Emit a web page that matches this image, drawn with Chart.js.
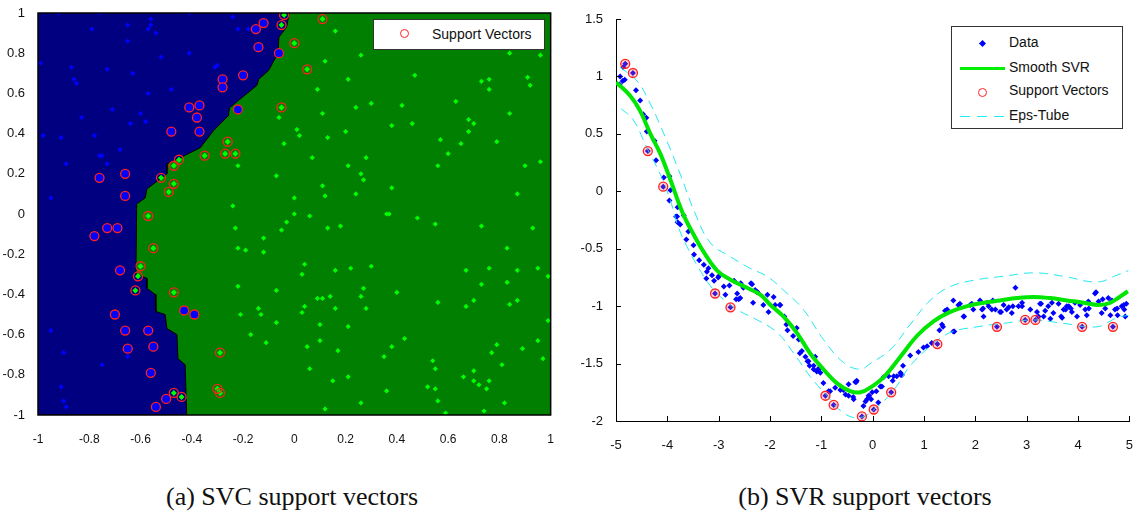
<!DOCTYPE html>
<html>
<head>
<meta charset="utf-8">
<script src="https://cdn.jsdelivr.net/npm/chart.js@4.4.1/dist/chart.umd.min.js"></script>
<style>
  body { margin: 0; background: #fff; font-family: "Liberation Sans", Arial, sans-serif; }
  #page { position: relative; width: 1133px; height: 519px; overflow: hidden; }
  .holder { position: absolute; top: 0; }
  .legend { position: absolute; background: #fff; border: 1px solid #333; box-sizing: border-box; font-size: 14px; color: #111; }
  .legend .txt { position: absolute; white-space: nowrap; }
  .mk { position: absolute; }
  .caption { position: absolute; top: 482px; font-family: "Liberation Serif", "Times New Roman", serif; font-size: 26px; color: #111; transform: translateX(-50%); white-space: nowrap; }
</style>
</head>
<body>
<div id="page">
  <div class="holder" style="left:0;"><canvas id="svc" width="563" height="450"></canvas></div>
  <div class="holder" style="left:570px;"><canvas id="svr" width="572" height="450"></canvas></div>

  <div class="legend" style="left:373px;top:19px;width:172px;height:31px;">
    <div class="mk" style="left:26px;top:9px;width:9px;height:9px;border:1.5px solid #f22;border-radius:50%;box-sizing:border-box;"></div>
    <div class="txt" style="left:58px;top:6px;">Support Vectors</div>
  </div>

  <div class="legend" style="left:951px;top:26px;width:172px;height:103px;">
    <div class="mk" style="left:28px;top:14px;width:5px;height:5px;background:#00f;transform:rotate(45deg);"></div>
    <div class="txt" style="left:57px;top:7px;">Data</div>
    <div class="mk" style="left:8px;top:40px;width:45px;height:3px;background:#0e0;"></div>
    <div class="txt" style="left:57px;top:32px;">Smooth SVR</div>
    <div class="mk" style="left:26px;top:61px;width:9px;height:9px;border:1.5px solid #f22;border-radius:50%;box-sizing:border-box;"></div>
    <div class="txt" style="left:57px;top:55px;">Support Vectors</div>
    <div class="mk" style="left:8px;top:89px;width:46px;height:1px;background:repeating-linear-gradient(90deg,#2ee 0 10px,transparent 10px 17px);"></div>
    <div class="txt" style="left:57px;top:80px;">Eps-Tube</div>
  </div>

  <div class="caption" style="left:292px;">(a) SVC support vectors</div>
  <div class="caption" style="left:865px;">(b) SVR support vectors</div>
</div>

<script>
// ---- SVC (left) ----
const svcXTicks = [-1, -0.8, -0.6, -0.4, -0.2, 0, 0.2, 0.4, 0.6, 0.8, 1];
const svcYTicks = [-1, -0.8, -0.6, -0.4, -0.2, 0, 0.2, 0.4, 0.6, 0.8, 1];

// blue class region (decision boundary, then the left side of the box)
const svcBlueRegion = [
  [-0.02, 1], [-0.03, 0.93], [-0.06, 0.88], [-0.064, 0.80], [-0.10, 0.715], [-0.139, 0.67],
  [-0.146, 0.64], [-0.218, 0.565], [-0.253, 0.528], [-0.257, 0.49], [-0.315, 0.415],
  [-0.367, 0.33], [-0.445, 0.28], [-0.497, 0.25], [-0.497, 0.20], [-0.575, 0.125],
  [-0.582, 0.08], [-0.615, 0.05], [-0.618, -0.30], [-0.575, -0.32], [-0.575, -0.37],
  [-0.543, -0.40], [-0.54, -0.485], [-0.504, -0.50], [-0.497, -0.57], [-0.458, -0.60],
  [-0.454, -0.72], [-0.426, -0.75], [-0.42, -1], [-1, -1], [-1, 1]
];

const svcBlue = [
  [-0.92, 1.0], [-0.76, 1.0], [-0.41, 1.0], [-0.24, 0.98], [-0.22, 0.92], [-0.18, 0.92],
  [-0.56, 0.97], [-0.65, 0.94], [-0.79, 0.92], [-0.57, 0.92], [-0.56, 0.94], [-0.54, 0.90],
  [-0.65, 0.86], [-0.41, 0.80], [-0.52, 0.78], [-0.99, 0.75], [-0.87, 0.73], [-0.73, 0.72],
  [-0.31, 0.73], [-0.30, 0.74], [-0.86, 0.67], [-0.85, 0.65], [-0.63, 0.70], [-0.48, 0.62],
  [-0.57, 0.60], [-0.71, 0.52], [-0.60, 0.50], [-0.83, 0.48], [-0.58, 0.46], [-0.64, 0.45],
  [-0.98, 0.39], [-0.91, 0.38], [-0.78, 0.39], [-0.68, 0.32], [-0.75, 0.29], [-0.76, 0.29],
  [-0.89, 0.25], [-0.73, 0.25], [-0.95, 0.08],
  [-0.95, -0.58], [-0.90, -0.69], [-0.65, -0.71], [-0.75, -0.75], [-0.91, -0.86],
  [-0.90, -0.93], [-0.89, -0.96]
];

const svcSvBlue = [
  [-0.15, 0.92], [-0.12, 0.95], [-0.14, 0.83], [-0.06, 0.80], [-0.28, 0.67], [-0.28, 0.63],
  [-0.20, 0.69], [-0.41, 0.53], [-0.37, 0.54], [-0.38, 0.48], [-0.37, 0.41], [-0.48, 0.41],
  [-0.22, 0.52], [-0.76, 0.18], [-0.66, 0.20], [-0.66, 0.09],
  [-0.78, -0.11], [-0.73, -0.07], [-0.69, -0.07], [-0.68, -0.28], [-0.70, -0.50],
  [-0.66, -0.58], [-0.57, -0.58], [-0.65, -0.67], [-0.55, -0.66], [-0.56, -0.79],
  [-0.43, -0.48], [-0.39, -0.50], [-0.50, -0.92], [-0.54, -0.96]
];

const svcSvGreen = [
  [-0.04, 0.99], [-0.05, 0.94], [0.00, 0.85], [-0.05, 0.53], [-0.26, 0.36], [-0.27, 0.30],
  [-0.23, 0.30], [-0.35, 0.29], [-0.45, 0.27], [-0.47, 0.24], [-0.52, 0.18], [-0.47, 0.15],
  [-0.49, 0.11], [-0.57, -0.01], [0.11, 0.97], [0.05, 0.72],
  [-0.55, -0.17], [-0.60, -0.26], [-0.61, -0.31], [-0.62, -0.38], [-0.47, -0.39],
  [-0.29, -0.69], [-0.30, -0.87], [-0.29, -0.89], [-0.47, -0.89], [-0.44, -0.91]
];

const svcGreen = [
  [-0.06, 0.48], [0.01, 0.42], [0.02, 0.39], [-0.04, 0.35], [-0.22, 0.24], [-0.07, 0.19],
  [0.00, 0.08], [-0.24, 0.04], [0.00, 0.00],
  [0.16, 0.91], [0.26, 0.79], [0.12, 0.76], [0.21, 0.67], [0.09, 0.62], [0.47, 0.69],
  [0.73, 0.66], [0.76, 0.67], [0.76, 0.62], [0.91, 0.68], [0.92, 0.64], [0.84, 0.80],
  [0.96, 0.79], [0.24, 0.53], [0.30, 0.55], [0.42, 0.54], [0.63, 0.56], [0.84, 0.50],
  [0.11, 0.50], [0.13, 0.38], [0.20, 0.41], [0.38, 0.44], [0.46, 0.45], [0.68, 0.47],
  [0.70, 0.45], [0.68, 0.41], [0.57, 0.37], [0.65, 0.35], [0.79, 0.36], [0.60, 0.30],
  [0.07, 0.28], [0.28, 0.28], [0.21, 0.24], [0.26, 0.20], [0.27, 0.17], [0.56, 0.24],
  [0.90, 0.24], [0.96, 0.26], [0.11, 0.14], [0.12, 0.09], [0.24, 0.10], [0.38, 0.13],
  [0.87, 0.10], [0.06, -0.01], [0.36, 0.00], [0.37, 0.00], [0.48, -0.02],
  [-0.03, -0.04], [-0.05, -0.08], [0.13, -0.07], [0.18, -0.06], [0.55, -0.05], [0.73, -0.06],
  [0.93, -0.07], [0.83, -0.17], [0.04, -0.25], [0.03, -0.30], [0.16, -0.28], [0.22, -0.27],
  [0.30, -0.26], [0.67, -0.28], [0.76, -0.27], [0.87, -0.28], [0.95, -0.27], [0.99, -0.31],
  [0.83, -0.34], [0.73, -0.35], [-0.07, -0.38], [0.27, -0.37], [0.40, -0.39], [0.09, -0.42],
  [0.11, -0.42], [0.14, -0.41], [0.26, -0.41], [0.04, -0.46], [0.03, -0.49], [0.16, -0.47],
  [0.28, -0.47], [0.56, -0.44], [0.67, -0.46], [0.70, -0.43], [0.84, -0.45], [0.87, -0.43],
  [-0.07, -0.54], [0.10, -0.55], [0.21, -0.56], [0.99, -0.53], [0.43, -0.62], [0.38, -0.66],
  [0.05, -0.66], [0.10, -0.63], [0.17, -0.68], [0.35, -0.71], [0.79, -0.65], [0.77, -0.69],
  [0.89, -0.67], [0.95, -0.63], [0.97, -0.72], [0.54, -0.73], [0.55, -0.77], [0.81, -0.75],
  [0.06, -0.77], [0.21, -0.81], [0.15, -0.83], [0.66, -0.81], [0.70, -0.78], [0.70, -0.83],
  [0.72, -0.85], [0.76, -0.83], [0.75, -0.87], [0.52, -0.86], [0.55, -0.87], [0.36, -0.88],
  [0.56, -0.93], [0.26, -0.94], [0.12, -0.97], [0.59, -0.99], [0.74, -0.98], [0.82, -0.94],
  [-0.23, -0.07], [-0.12, -0.12], [-0.22, -0.17], [-0.19, -0.18], [-0.12, -0.19],
  [-0.22, -0.36], [-0.14, -0.47], [-0.21, -0.50], [-0.13, -0.50], [-0.17, -0.60], [-0.11, -0.64]
];

// ---- SVR (right) ----
const svrXTicks = [-5, -4, -3, -2, -1, 0, 1, 2, 3, 4, 5];
const svrYTicks = [-2, -1.5, -1, -0.5, 0, 0.5, 1, 1.5];

const svrData = [
  [-4.92, 1.00], [-4.93, 0.93], [-4.87, 0.96], [-4.83, 0.97], [-4.86, 1.08], [-4.82, 1.11],
  [-4.67, 1.03], [-4.61, 0.88], [-4.53, 0.79], [-4.47, 0.67], [-4.41, 0.64], [-4.40, 0.52],
  [-4.38, 0.35], [-4.25, 0.44], [-4.22, 0.27], [-4.07, 0.12], [-4.08, 0.04], [-3.96, 0.13],
  [-3.94, 0.01], [-3.96, -0.08], [-3.80, -0.14], [-3.81, -0.22], [-3.68, -0.21],
  [-3.83, -0.22], [-3.80, -0.27], [-3.75, -0.29], [-3.59, -0.35], [-3.63, -0.42],
  [-3.49, -0.47], [-3.48, -0.55], [-3.38, -0.60], [-3.29, -0.64], [-3.20, -0.67],
  [-3.23, -0.70], [-3.13, -0.73], [-3.24, -0.76], [-3.09, -0.78], [-3.00, -0.74],
  [-3.07, -0.89], [-2.90, -0.83], [-2.87, -0.90], [-2.79, -0.82], [-2.77, -1.01],
  [-2.70, -0.78], [-2.64, -0.89], [-2.66, -0.94], [-2.58, -0.93], [-2.57, -0.80],
  [-2.52, -0.84], [-2.35, -0.81], [-2.33, -0.97], [-2.29, -0.86], [-2.24, -0.88],
  [-2.13, -0.99], [-2.05, -0.90], [-2.03, -1.05], [-1.93, -0.92], [-1.90, -0.99],
  [-1.80, -0.99], [-1.72, -1.09], [-1.68, -1.16], [-1.66, -1.21], [-1.55, -1.26],
  [-1.48, -1.19], [-1.44, -1.29], [-1.42, -1.41], [-1.38, -1.39], [-1.31, -1.44],
  [-1.27, -1.48], [-1.23, -1.52], [-1.15, -1.52], [-1.12, -1.44], [-1.09, -1.57],
  [-1.05, -1.55], [-1.02, -1.58], [-0.96, -1.67], [-0.92, -1.78], [-0.86, -1.74],
  [-0.76, -1.86], [-0.73, -1.71], [-0.57, -1.73], [-0.47, -1.68], [-0.47, -1.78],
  [-0.38, -1.79], [-0.32, -1.66], [-0.34, -1.66], [-0.21, -1.96], [-0.18, -1.87],
  [-0.14, -1.83], [-0.07, -1.78], [-0.03, -1.81], [0.02, -1.90], [0.11, -1.84],
  [0.07, -1.74], [0.18, -1.70], [0.21, -1.62], [0.36, -1.75], [0.41, -1.61], [0.39, -1.65],
  [0.55, -1.60], [0.59, -1.52], [0.57, -1.60], [0.73, -1.43], [0.89, -1.40], [0.99, -1.36],
  [1.06, -1.35], [1.15, -1.32], [1.26, -1.33], [1.30, -1.21], [1.35, -1.16], [1.45, -1.03],
  [1.57, -0.95], [1.59, -1.22], [1.67, -0.99], [1.78, -1.09], [1.90, -0.99], [1.96, -1.03],
  [2.09, -0.95], [2.16, -1.09], [2.15, -1.02], [2.26, -1.00], [2.34, -0.95], [2.39, -1.03],
  [2.42, -1.18], [2.50, -1.05], [2.55, -0.99], [2.65, -1.01], [2.73, -1.00], [2.78, -0.84],
  [2.84, -1.00], [2.91, -1.00], [2.97, -1.12], [3.07, -1.03], [3.17, -1.12], [3.23, -1.09],
  [3.28, -0.98], [3.36, -1.04], [3.42, -1.00], [3.46, -1.11], [3.52, -1.06], [3.67, -1.09],
  [3.72, -1.03], [3.78, -1.00], [3.86, -1.02], [3.98, -1.09], [4.04, -0.99], [4.08, -1.18],
  [4.17, -1.08], [4.20, -0.96], [4.21, -1.02], [4.35, -0.88], [4.40, -0.96], [4.48, -0.94],
  [4.53, -1.02], [4.59, -0.93], [4.63, -1.08], [4.68, -1.18], [4.72, -1.03], [4.77, -1.08],
  [4.85, -1.00], [4.90, -1.03], [4.94, -0.98],
  [1.41, -1.04], [1.70, -0.98], [1.93, -0.98], [2.13, -1.03], [2.23, -0.97], [2.32, -1.03],
  [2.48, -1.05], [2.61, -1.03], [2.71, -1.06], [2.91, -0.97], [3.20, -1.05], [3.26, -0.98],
  [3.33, -1.09], [3.49, -0.97], [3.62, -0.98], [3.69, -1.10], [3.76, -1.03], [3.82, -1.00],
  [3.88, -1.05], [3.94, -0.97], [4.14, -1.03], [4.33, -0.89], [4.46, -1.06], [4.66, -0.95],
  [4.76, -1.02], [4.89, -0.99], [4.92, -1.09], [1.37, -1.18], [1.57, -1.22], [1.77, -1.09],
  [-3.01, -0.75], [-2.37, -0.80], [-2.61, -0.94], [-2.25, -0.88], [-1.81, -0.99],
  [-1.25, -1.48], [-1.15, -1.55], [-1.05, -1.54], [-0.83, -1.74], [-0.63, -1.73],
  [-0.53, -1.77], [-0.37, -1.81], [-0.31, -1.65], [-0.11, -1.81], [-0.08, -1.78],
  [-0.01, -1.75], [0.15, -1.70], [0.31, -1.61], [0.47, -1.61], [0.54, -1.58]
];

const svrSupport = [
  [-4.82, 1.11], [-4.67, 1.03], [-4.38, 0.35], [-4.08, 0.04], [-3.07, -0.89], [-2.77, -1.01],
  [-0.92, -1.78], [-0.76, -1.86], [-0.21, -1.96], [0.02, -1.90], [0.36, -1.75], [1.26, -1.33],
  [2.42, -1.18], [2.97, -1.12], [3.17, -1.12], [4.08, -1.18], [4.68, -1.18]
];

const svrCurve = [
  [-5, 0.95], [-4.72, 0.83], [-4.53, 0.70], [-4.33, 0.50], [-4.14, 0.33], [-3.94, 0.10],
  [-3.70, -0.19], [-3.46, -0.40], [-3.29, -0.53], [-3.03, -0.69], [-2.77, -0.77],
  [-2.45, -0.84], [-2.19, -0.90], [-1.99, -0.99], [-1.74, -1.09], [-1.48, -1.23],
  [-1.22, -1.41], [-0.96, -1.55], [-0.70, -1.67], [-0.44, -1.74], [-0.24, -1.75],
  [-0.05, -1.71], [0.21, -1.62], [0.54, -1.44], [0.86, -1.26], [1.19, -1.13], [1.51, -1.05],
  [1.84, -1.00], [2.16, -0.97], [2.48, -0.95], [2.81, -0.93], [3.13, -0.92], [3.46, -0.93],
  [3.78, -0.95], [4.11, -0.97], [4.40, -0.99], [4.63, -0.97], [4.97, -0.87]
];

const tubeUpper = [
  [-4.92, 1.08], [-4.59, 0.96], [-4.33, 0.76], [-4.01, 0.44], [-3.75, 0.15], [-3.46, -0.19],
  [-3.16, -0.45], [-2.77, -0.57], [-2.39, -0.67], [-2.06, -0.74], [-1.74, -0.86],
  [-1.35, -1.03], [-0.96, -1.29], [-0.57, -1.49], [-0.24, -1.55], [-0.05, -1.50],
  [0.34, -1.38], [0.73, -1.16], [1.12, -0.95], [1.51, -0.83], [2.03, -0.77], [2.55, -0.74],
  [3.13, -0.71], [3.72, -0.74], [4.37, -0.79], [4.76, -0.73], [4.98, -0.69]
];

const tubeLower = [
  [-4.90, 0.72], [-4.66, 0.62], [-4.40, 0.38], [-4.14, 0.15], [-3.94, -0.08], [-3.81, -0.28],
  [-3.62, -0.48], [-3.29, -0.74], [-3.03, -0.89], [-2.64, -1.03], [-2.25, -1.12],
  [-1.86, -1.23], [-1.54, -1.41], [-1.22, -1.61], [-0.89, -1.78], [-0.57, -1.93],
  [-0.24, -1.97], [0.08, -1.88], [0.41, -1.73], [0.73, -1.52], [1.12, -1.35], [1.51, -1.23],
  [2.03, -1.18], [2.55, -1.15], [3.13, -1.12], [3.72, -1.15], [4.37, -1.18], [4.76, -1.10],
  [4.98, -1.08]
];

const toXY = arr => arr.map(p => ({ x: p[0], y: p[1] }));
const tickFont = { family: "Liberation Sans", size: 12 };

// left chart: green background + black frame
const svcFrame = {
  id: 'svcFrame',
  beforeDatasetsDraw(chart) {
    const { ctx, chartArea: a } = chart;
    ctx.save();
    ctx.fillStyle = '#007f00';
    ctx.fillRect(a.left, a.top, a.right - a.left, a.bottom - a.top);
    ctx.restore();
  },
  afterDatasetsDraw(chart) {
    const { ctx, chartArea: a } = chart;
    ctx.save();
    ctx.strokeStyle = '#000';
    ctx.lineWidth = 1.5;
    ctx.strokeRect(a.left, a.top, a.right - a.left, a.bottom - a.top);
    ctx.restore();
  }
};

new Chart(document.getElementById('svc'), {
  type: 'scatter',
  data: {
    datasets: [
      { data: toXY(svcSvBlue), pointStyle: 'circle', pointRadius: 4.5, backgroundColor: '#0000ff', borderColor: '#ff2020', borderWidth: 1.3, order: 0 },
      { data: toXY(svcSvGreen), pointStyle: 'circle', pointRadius: 4.5, backgroundColor: 'rgba(0,0,0,0)', borderColor: '#ff2020', borderWidth: 1.3, order: 0 },
      { data: toXY(svcSvGreen), pointStyle: 'rectRot', pointRadius: 3, backgroundColor: '#00ff00', borderWidth: 0, order: 1 },
      { data: toXY(svcBlue), pointStyle: 'rectRot', pointRadius: 2.6, backgroundColor: '#0000ff', borderWidth: 0, order: 1 },
      { data: toXY(svcGreen), pointStyle: 'rectRot', pointRadius: 2.6, backgroundColor: '#00ff00', borderWidth: 0, order: 1 },
      { type: 'line', data: toXY(svcBlueRegion), fill: 'shape', backgroundColor: '#000080', borderColor: '#000', borderWidth: 1, pointRadius: 0, tension: 0, order: 5 }
    ]
  },
  options: {
    responsive: false,
    animation: false,
    layout: { padding: { top: 13, right: 10, left: 0, bottom: 0 } },
    plugins: { legend: { display: false }, tooltip: { enabled: false } },
    scales: {
      x: {
        type: 'linear', min: -1, max: 1,
        afterBuildTicks: s => { s.ticks = svcXTicks.map(v => ({ value: v })); },
        afterFit: s => { s.height = 35; },
        grid: { display: false }, border: { display: false },
        ticks: { font: tickFont, color: '#111', padding: 9, maxRotation: 0, callback: v => String(v) }
      },
      y: {
        type: 'linear', min: -1, max: 1,
        afterBuildTicks: s => { s.ticks = svcYTicks.map(v => ({ value: v })); },
        afterFit: s => { s.width = 38; },
        grid: { display: false }, border: { display: false },
        ticks: { font: { family: "Liberation Sans", size: 13 }, color: '#111', padding: 5, callback: v => String(v) }
      }
    }
  },
  plugins: [svcFrame]
});

// right chart: ticks drawn into the plot
const inwardTicks = {
  id: 'inwardTicks',
  afterDraw(chart) {
    const { ctx, chartArea: a, scales: { x, y } } = chart;
    ctx.save();
    ctx.strokeStyle = '#000';
    ctx.lineWidth = 1;
    ctx.beginPath();
    x.ticks.forEach(t => {
      const px = Math.round(x.getPixelForValue(t.value)) + 0.5;
      ctx.moveTo(px, a.bottom); ctx.lineTo(px, a.bottom - 5);
    });
    y.ticks.forEach(t => {
      const py = Math.round(y.getPixelForValue(t.value)) + 0.5;
      ctx.moveTo(a.left, py); ctx.lineTo(a.left + 5, py);
    });
    ctx.stroke();
    ctx.restore();
  }
};

new Chart(document.getElementById('svr'), {
  type: 'scatter',
  data: {
    datasets: [
      { data: toXY(svrSupport), pointStyle: 'circle', pointRadius: 4.5, backgroundColor: 'rgba(255,80,80,0.25)', borderColor: '#ff2020', borderWidth: 1.3, order: 0 },
      { type: 'line', data: toXY(tubeUpper), borderColor: '#22e8f0', borderWidth: 1, borderDash: [9, 6], pointRadius: 0, tension: 0.4, fill: false, order: 1 },
      { type: 'line', data: toXY(tubeLower), borderColor: '#22e8f0', borderWidth: 1, borderDash: [9, 6], pointRadius: 0, tension: 0.4, fill: false, order: 1 },
      { type: 'line', data: toXY(svrCurve), borderColor: '#00e600', borderWidth: 4, pointRadius: 0, tension: 0.4, fill: false, order: 2 },
      { data: toXY(svrData), pointStyle: 'rectRot', pointRadius: 3, backgroundColor: '#0000ff', borderWidth: 0, order: 3 }
    ]
  },
  options: {
    responsive: false,
    animation: false,
    layout: { padding: { top: 19, right: 4, left: 0, bottom: 0 } },
    plugins: { legend: { display: false }, tooltip: { enabled: false } },
    scales: {
      x: {
        type: 'linear', min: -5, max: 5,
        afterBuildTicks: s => { s.ticks = svrXTicks.map(v => ({ value: v })); },
        afterFit: s => { s.height = 29; },
        grid: { display: false }, border: { display: true, color: '#000', width: 1 },
        ticks: { font: { family: "Liberation Sans", size: 13 }, color: '#111', padding: 9, maxRotation: 0, callback: v => String(v) }
      },
      y: {
        type: 'linear', min: -2, max: 1.5,
        afterBuildTicks: s => { s.ticks = svrYTicks.map(v => ({ value: v })); },
        afterFit: s => { s.width = 46; },
        grid: { display: false }, border: { display: true, color: '#000', width: 1 },
        ticks: { font: { family: "Liberation Sans", size: 13 }, color: '#111', padding: 5, callback: v => String(v) }
      }
    }
  },
  plugins: [inwardTicks]
});
</script>
</body>
</html>
